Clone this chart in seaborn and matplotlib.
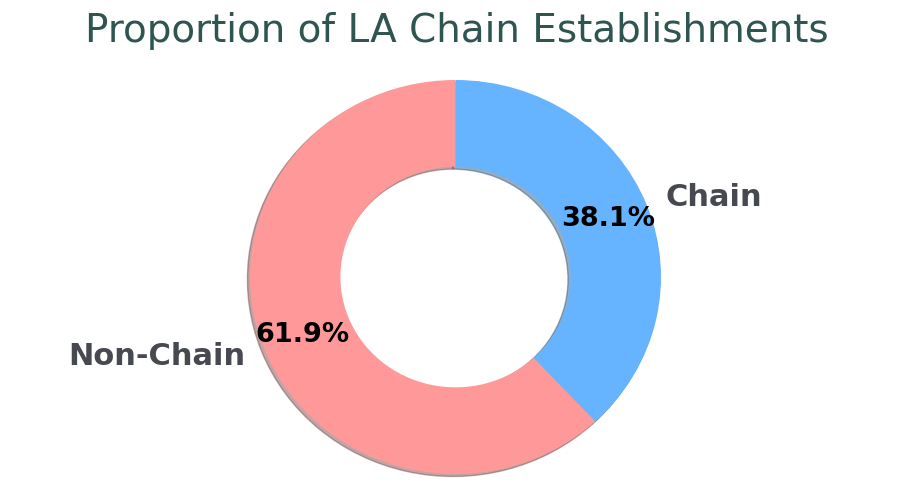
import matplotlib
matplotlib.use("Agg")
import matplotlib.pyplot as plt
import seaborn as sns

sns.set_theme(style="white")
plt.rcParams['font.family'] = ['DejaVu Sans']

categories = ["Chain", "Non-Chain"]
shares = [38.1, 61.9]
colors = ["#66b3ff", "#ff9999"]

W, H = 909, 500
fig = plt.figure(figsize=(W / 100, H / 100), dpi=100)

cx, cy = 455.5, 277.0      # pie centre in pixels (from top)
rx, ry = 205.5, 197.0      # radius in pixels
lim = 1.25
ax = fig.add_axes([(cx - lim * rx) / W, (H - cy - lim * ry) / H,
                   2 * lim * rx / W, 2 * lim * ry / H])

wedges, texts, autotexts = ax.pie(
    shares, labels=categories, colors=colors, autopct="%1.1f%%",
    startangle=90, counterclock=False,
    shadow=dict(ox=-0.009, oy=-0.009, shade=0.5),
    pctdistance=0.8, labeldistance=1.1,
    wedgeprops=dict(width=0.44, edgecolor="none"),
    textprops=dict(fontweight="bold"),
)
for t in texts:
    t.set_color("#464a50")
    t.set_fontsize(22)
for t in autotexts:
    t.set_color("black")
    t.set_fontsize(19.5)

ax.set_xlim(-lim, lim)
ax.set_ylim(-lim, lim)
ax.set_aspect("auto")
ax.axis("off")

fig.text(456.5 / W, 1 - 31 / H, "Proportion of LA Chain Establishments",
         ha="center", va="center", fontsize=28, color="#2f5550")

fig.savefig("out.png", dpi=100)
